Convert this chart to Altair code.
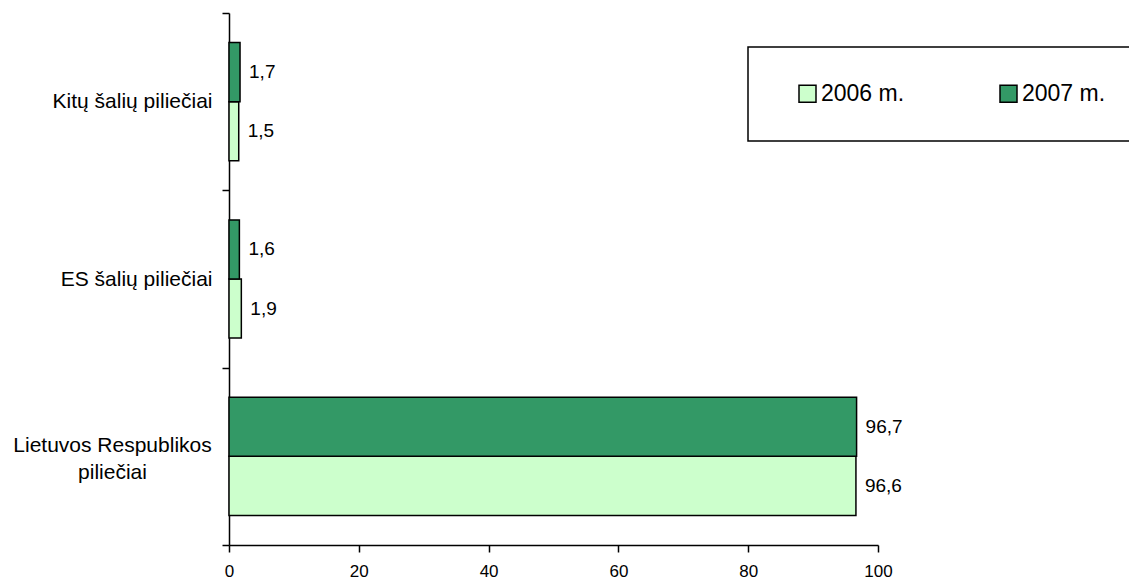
import altair as alt
import pandas as pd

categories = ["Kitų šalių piliečiai", "ES šalių piliečiai", "Lietuvos Respublikos piliečiai"]
years = ["2006 m.", "2007 m."]
values_2006 = [1.5, 1.9, 96.6]
values_2007 = [1.7, 1.6, 96.7]
colors = ["#CCFFCC", "#339966"]
x_ticks = [0, 20, 40, 60, 80, 100]

rows = []
for cat, a, b in zip(categories, values_2006, values_2007):
    rows.append({"cat": cat, "year": years[0], "value": a, "label": f"{a:.1f}".replace(".", ",")})
    rows.append({"cat": cat, "year": years[1], "value": b, "label": f"{b:.1f}".replace(".", ",")})
df = pd.DataFrame(rows)

FONT = "Liberation Sans"
long_label = categories[2]
is_long = f"datum.value == '{long_label}'"

y_enc = alt.Y(
    "cat:N",
    sort=categories,
    title=None,
    scale=alt.Scale(paddingInner=0, paddingOuter=0),
    axis=alt.Axis(
        tickBand="extent",
        tickSize=7,
        tickColor="black",
        tickWidth=1.5,
        domainColor="black",
        domainWidth=1.5,
        labelFont=FONT,
        labelFontSize=21,
        labelColor="black",
        labelLineHeight=27,
        labelLimit=400,
        labelExpr=f"{is_long} ? ['Lietuvos Respublikos', 'piliečiai'] : datum.label",
        labelAlign={"condition": {"test": is_long, "value": "center"}, "value": "right"},
        labelPadding={"condition": {"test": is_long, "value": 110}, "value": 10},
        labelOffset={"condition": {"test": is_long, "value": -11}, "value": 0},
    ),
)
yoff = alt.YOffset("year:N", sort=[years[1], years[0]], scale=alt.Scale(paddingInner=0, paddingOuter=0.5))
x_enc = alt.X(
    "value:Q",
    title=None,
    scale=alt.Scale(domain=[0, 100], nice=False),
    axis=alt.Axis(
        values=x_ticks,
        grid=False,
        tickSize=7,
        tickColor="black",
        tickWidth=1.5,
        domainColor="black",
        domainWidth=1.5,
        labelFont=FONT,
        labelFontSize=17,
        labelColor="black",
        labelPadding=11,
        labelFlush=False,
    ),
)

bars = alt.Chart(df).mark_bar(stroke="black", strokeWidth=1.5).encode(
    x=x_enc,
    y=y_enc,
    yOffset=yoff,
    color=alt.Color(
        "year:N",
        scale=alt.Scale(domain=years, range=colors),
        legend=alt.Legend(
            title=None,
            orient="none",
            legendX=519,
            legendY=34,
            direction="horizontal",
            symbolType="square",
            symbolSize=289,
            symbolStrokeColor="black",
            symbolStrokeWidth=1.5,
            symbolOpacity=1,
            symbolOffset=13,
            labelOffset=2,
            labelFont=FONT,
            labelFontSize=23,
            labelColor="black",
            labelLimit=300,
            columnPadding=79,
            padding=35,
            strokeColor="black",
            fillColor="white",
        ),
    ),
)

texts = alt.Chart(df).mark_text(
    align="left", baseline="middle", dx=9, font=FONT, fontSize=19, color="black"
).encode(
    x=alt.X("value:Q"),
    y=alt.Y("cat:N", sort=categories),
    yOffset=alt.YOffset("year:N", sort=[years[1], years[0]]),
    text="label:N",
)

chart = (
    alt.layer(bars, texts)
    .properties(
        width=649,
        height=532,
        autosize="none",
        padding={"left": 221, "top": 5, "right": 251, "bottom": 34},
    )
    .configure_view(stroke=None)
    .configure_legend(strokeWidth=1.5)
)

chart.save("out.html", embed_options={"renderer": "svg", "actions": False})
